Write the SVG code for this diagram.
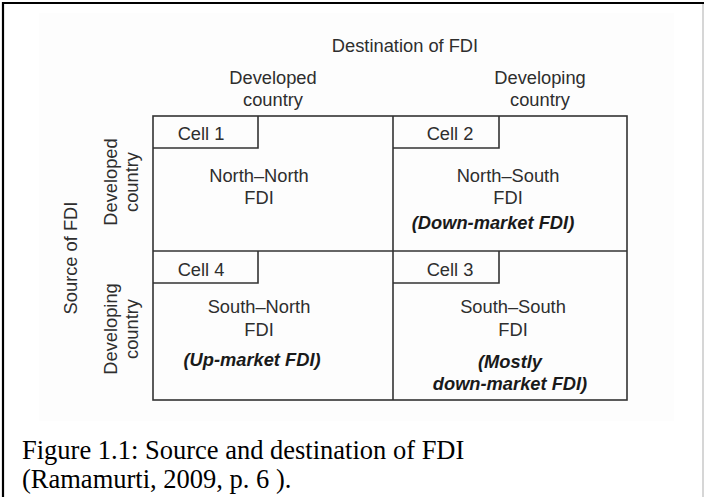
<svg xmlns="http://www.w3.org/2000/svg" width="704" height="497" viewBox="0 0 704 497">
<style>
  .t { font-family: "Liberation Sans", Arial, sans-serif; font-size: 18.3px; fill: #2e2e2e; text-anchor: middle; }
  .b { font-family: "Liberation Sans", Arial, sans-serif; font-size: 18.3px; fill: #1a1a1a; font-weight: bold; font-style: italic; text-anchor: middle; }
  .ln { fill: none; stroke: #333; stroke-width: 1.6; }
  .cap { font-family: "Liberation Serif", "Times New Roman", serif; font-size: 26.5px; fill: #000; }
</style>
<rect x="0" y="0" width="704" height="497" fill="#fff"/>
<rect x="39" y="13" width="635" height="408" fill="#fdfdfd"/>
<path d="M3,497 V3 H704" fill="none" stroke="#000" stroke-width="2.2"/>
<line x1="703" y1="4" x2="703" y2="497" stroke="#bbb" stroke-width="1.2"/>

<g id="axis-labels">
  <text class="t" x="405" y="52">Destination of FDI</text>
  <text class="t" x="273" y="84">Developed</text>
  <text class="t" x="273" y="106">country</text>
  <text class="t" x="540" y="84">Developing</text>
  <text class="t" x="540" y="106">country</text>
  <text class="t" transform="translate(77,258) rotate(-90)">Source of FDI</text>
  <text class="t" transform="translate(117,182) rotate(-90)">Developed</text>
  <text class="t" transform="translate(138,182) rotate(-90)">country</text>
  <text class="t" transform="translate(117,329) rotate(-90)">Developing</text>
  <text class="t" transform="translate(138,329) rotate(-90)">country</text>
</g>

<g id="grid">
  <rect class="ln" x="153" y="116" width="474" height="284"/>
  <line class="ln" x1="393" y1="116" x2="393" y2="400"/>
  <line class="ln" x1="153" y1="251" x2="627" y2="251"/>
</g>

<g id="cell1">
  <path class="ln" d="M153,148 H258 V116"/>
  <text class="t" x="201" y="140">Cell 1</text>
  <text class="t" x="259" y="182">North–North</text>
  <text class="t" x="259" y="204">FDI</text>
</g>

<g id="cell2">
  <path class="ln" d="M393,148 H499 V116"/>
  <text class="t" x="450" y="140">Cell 2</text>
  <text class="t" x="508" y="182">North–South</text>
  <text class="t" x="508" y="204">FDI</text>
  <text class="b" x="493" y="229">(Down-market FDI)</text>
</g>

<g id="cell4">
  <path class="ln" d="M153,283 H258 V251"/>
  <text class="t" x="201" y="276">Cell 4</text>
  <text class="t" x="259" y="313">South–North</text>
  <text class="t" x="259" y="336">FDI</text>
  <text class="b" x="252" y="366">(Up-market FDI)</text>
</g>

<g id="cell3">
  <path class="ln" d="M393,283 H499 V251"/>
  <text class="t" x="450" y="276">Cell 3</text>
  <text class="t" x="513" y="313">South–South</text>
  <text class="t" x="513" y="336">FDI</text>
  <text class="b" x="510" y="368">(Mostly</text>
  <text class="b" x="510" y="390">down-market FDI)</text>
</g>

<g id="caption">
  <text class="cap" x="22" y="459">Figure 1.1: Source and destination of FDI</text>
  <text class="cap" x="22" y="488">(Ramamurti, 2009, p. 6 ).</text>
</g>
</svg>
